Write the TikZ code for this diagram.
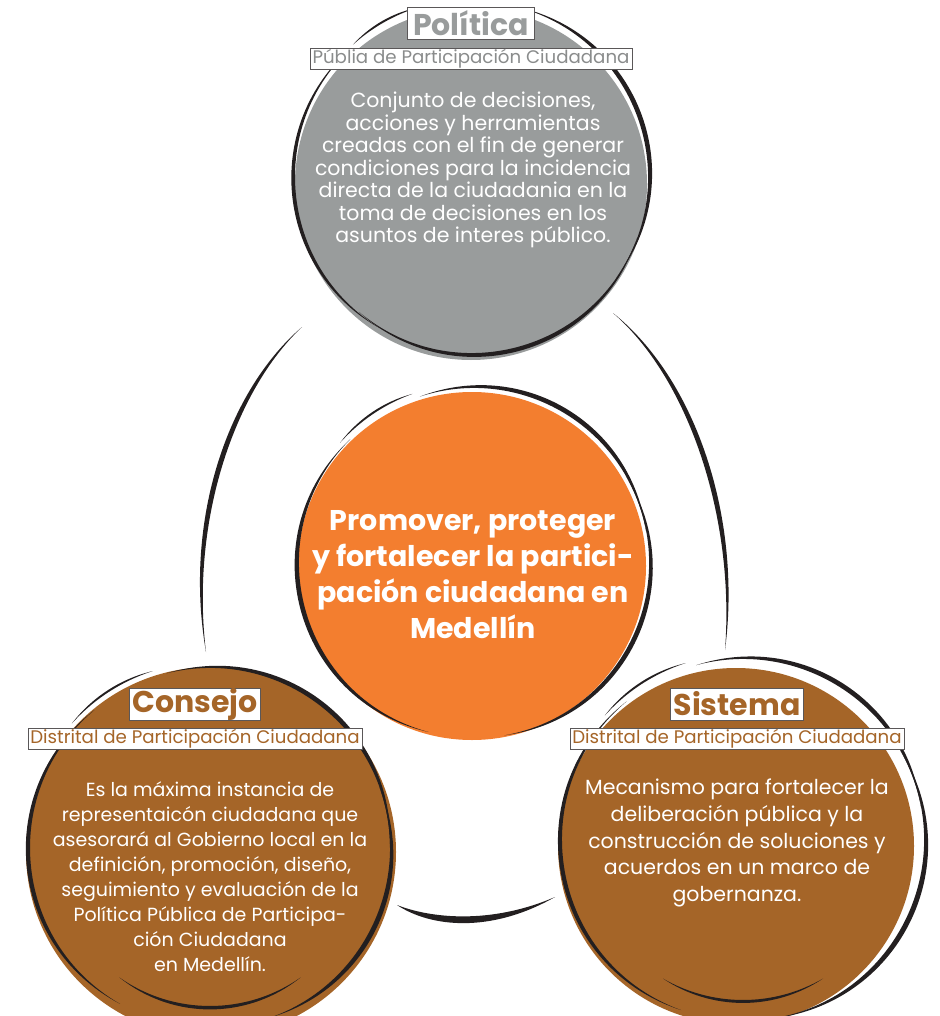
\documentclass[tikz,border=0pt]{standalone}
\usepackage{fontspec}
\setmainfont{Poppins}
\usetikzlibrary{calc, positioning}

\definecolor{ink}{HTML}{231F20}
\definecolor{polgray}{HTML}{999C9C}
\definecolor{subgray}{HTML}{8A8C8C}
\definecolor{midorange}{HTML}{F37E2F}
\definecolor{rust}{HTML}{A56528}

% brush stroke along a circle: centre, radius, from, to, thickness
\newcommand\inkarc[5]{%
  \pgfmathsetmacro\arck{4/3*tan((#4-#3)/4)}%
  \pgfmathsetmacro\arcb{atan(\arck)}%
  \pgfmathsetmacro\arcp{#3+\arcb}%
  \pgfmathsetmacro\arcq{#4-\arcb}%
  \pgfmathsetmacro\arcr{#2*sqrt(1+\arck*\arck)}%
  \pgfmathsetmacro\arco{\arcr+1.33*#5}%
  \fill[ink] ($(#1)+(#3:#2)$) .. controls ($(#1)+(\arcp:\arcr)$) and ($(#1)+(\arcq:\arcr)$) .. ($(#1)+(#4:#2)$)
    .. controls ($(#1)+(\arcq:\arco)$) and ($(#1)+(\arcp:\arco)$) .. cycle;}

\begin{document}
\begin{tikzpicture}[x=1pt,y=-1pt,
	disc/.style={circle, inner sep=0pt},
	titlebox/.style={draw=ink!75, line width=0.6pt, fill=white, inner xsep=3pt, inner ysep=0pt, minimum height=32pt, font=\fontsize{30}{30}\selectfont\bfseries},
	subbox/.style={draw=ink!75, line width=0.6pt, fill=white, inner xsep=2.5pt, inner ysep=0pt, minimum height=21pt, font=\fontsize{18.2}{18.2}\selectfont},
	body/.style={text=white, align=center, font=\fontsize{20.5}{22.5}\selectfont}]
	
	\useasboundingbox (0,0) rectangle (939,1016);
	
	% strokes between the circles
	\fill[ink] (302,327) .. controls (235,390) and (190,520) .. (206,652) .. controls (183,520) and (228,390) .. cycle;
	\fill[ink] (613,313) .. controls (690,380) and (735,520) .. (725,650) .. controls (742,520) and (697,380) .. cycle;
	\fill[ink] (397,905) .. controls (430,918) and (490,925) .. (555,897) .. controls (490,934) and (430,927) .. cycle;
	
	\node (pol) [disc, fill=polgray, minimum size=352pt] at (471,184) {};
	\node (mid) [disc, fill=midorange, minimum size=348pt] at (472,566) {};
	\node (con) [disc, fill=rust, minimum size=370pt] at (211,852) {};
	\node (sis) [disc, fill=rust, minimum size=356pt] at (736,846) {};
	
	\coordinate (polr) at (472,177);
	\coordinate (midr) at (474,563);
	\coordinate (conr) at (210,848);
	\coordinate (sisr) at (743,840);
	
	\inkarc{polr}{176}{285}{395}{5}
	\inkarc{polr}{176}{20}{130}{4.5}
	\inkarc{polr}{177}{120}{226}{4}
	\inkarc{polr}{178}{228}{252}{2}
	
	\inkarc{midr}{175}{252}{350}{5}
	\inkarc{midr}{175}{330}{440}{5}
	\inkarc{midr}{175}{105}{225}{5}
	\inkarc{midr}{180}{222}{250}{2}
	
	\inkarc{conr}{186}{222}{252}{2}
	\inkarc{conr}{180}{256}{360}{5}
	\inkarc{conr}{180}{340}{430}{5}
	\inkarc{conr}{180}{120}{230}{4.5}
	\inkarc{conr}{158}{55}{125}{3.5}
	
	\inkarc{sisr}{186}{222}{252}{2}
	\inkarc{sisr}{181}{255}{350}{5}
	\inkarc{sisr}{181}{330}{440}{5.5}
	\inkarc{sisr}{181}{110}{230}{4.5}
	\inkarc{sisr}{160}{60}{120}{3}
	
	\node (poltitle) [titlebox, text=polgray, minimum width=127pt] at (471,23) {Política};
	\node (polsub) [subbox, text=subgray, below=9pt of poltitle] {Públia de Participación Ciudadana};
	\node (contitle) [titlebox, text=rust, minimum width=130pt] at (195,704) {Consejo};
	\node (consub) [subbox, text=rust, below=8pt of contitle] {Distrital de Participación Ciudadana};
	\node (sistitle) [titlebox, text=rust, minimum width=130pt] at (737,704) {Sistema};
	\node (sissub) [subbox, text=rust, below=8pt of sistitle] {Distrital de Participación Ciudadana};
	
	\node (poltext) [body] at (473,170) {Conjunto de decisiones,\\acciones y herramientas\\creadas con el fin de generar\\condiciones para la incidencia\\directa de la ciudadania en la\\toma de decisiones en los\\asuntos de interes público.};
	\node (midtext) [body, font=\fontsize{28.5}{36}\selectfont\bfseries] at (473,575) {Promover, proteger\\y fortalecer la partici-\\pación ciudadana en\\Medellín};
	\node (context) [body, font=\fontsize{19}{25}\selectfont] at (210,877) {Es la máxima instancia de\\representaicón ciudadana que\\asesorará al Gobierno local en la\\definición, promoción, diseño,\\seguimiento y evaluación de la\\Política Pública de Participa-\\ción Ciudadana\\en Medellín.};
	\node (sistext) [body, font=\fontsize{20.5}{26.7}\selectfont] at (737,843) {Mecanismo para fortalecer la\\deliberación pública y la\\construcción de soluciones y\\acuerdos en un marco de\\gobernanza.};
	
\end{tikzpicture}
\end{document}
